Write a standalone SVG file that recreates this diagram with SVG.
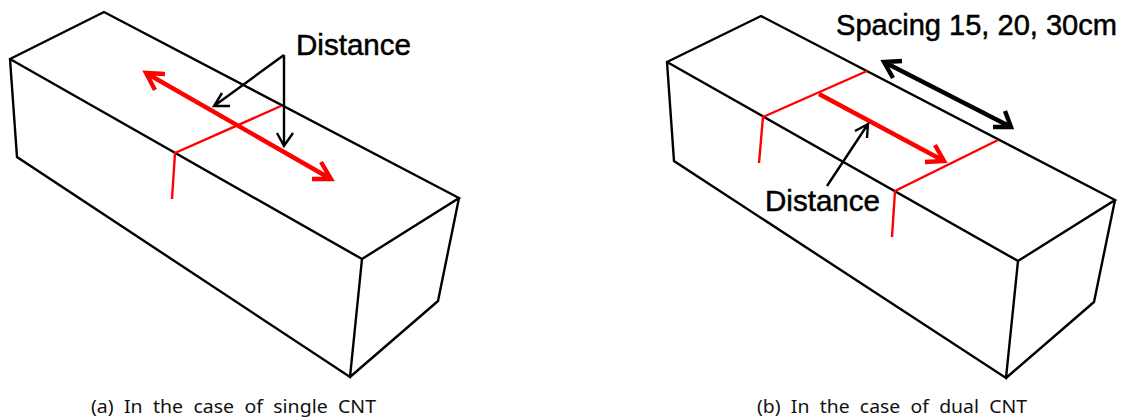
<svg xmlns="http://www.w3.org/2000/svg" width="1124" height="418" viewBox="0 0 1124 418">
<style>
.box{fill:none;stroke:#000;stroke-width:2.4;stroke-linejoin:miter}
.cut{fill:none;stroke:#f00;stroke-width:2.4}
.red{fill:none;stroke:#f00;stroke-width:4.4}
.blk{fill:none;stroke:#000;stroke-width:2.4}
.blk4{fill:none;stroke:#000;stroke-width:4.4}
.lab{font-family:"Liberation Sans",Arial,sans-serif;fill:#000;stroke:#000;stroke-width:.5}
.cap{font-family:"Noto Sans",sans-serif;font-size:18.5px;fill:#111}
</style>
<rect width="1124" height="418" fill="#fff"/>
<g id="beam-a">
<path class="box" d="M10 59L104 12L459 198L362 259L350 377L17 157ZM10 59L362 259M459 198L438 301L350 377"/>
</g>
<g id="beam-b">
<path class="box" d="M667 62L761 16L1115 200L1018 261L1006 378L674 161ZM667 62L1018 261M1115 200L1094 302L1006 378"/>
</g>
<g id="cuts">
<path class="cut" d="M281 106L175 153L172 199"/>
<path class="cut" d="M867 71L763 117L759 163"/>
<path class="cut" d="M998 140L895 191L892 237"/>
</g>
<g id="connectors">
<path class="red" d="M146 73L331 179M165 74L146 73L155 90M312 179L331 179L321 162"/>
<path class="red" d="M819 94L944 161M925 162L944 161L935 145"/>
<path class="blk" d="M284 55L214 106M230 106L214 106L222 93"/>
<path class="blk" d="M284 55L284 146M277 133L284 146L293 133"/>
<path class="blk" d="M827 186L868 124M855 131L868 124L867 138"/>
<path class="blk4" d="M884 62L1011 127M902 61L884 62L893 78M993 127L1011 127L1005 111"/>
</g>
<g id="label-distance-a"><text class="lab" x="296" y="55" font-size="29" textLength="115" lengthAdjust="spacingAndGlyphs">Distance</text></g>
<g id="label-distance-b"><text class="lab" x="765" y="211" font-size="29" textLength="115" lengthAdjust="spacingAndGlyphs">Distance</text></g>
<g id="label-spacing"><text class="lab" x="836" y="35" font-size="29" textLength="281" lengthAdjust="spacingAndGlyphs">Spacing 15, 20, 30cm</text></g>
<g id="caption-a"><text class="cap" x="91" y="412.5" textLength="285" lengthAdjust="spacingAndGlyphs" word-spacing="5">(a) In the case of single CNT</text></g>
<g id="caption-b"><text class="cap" x="757" y="412.5" textLength="270" lengthAdjust="spacingAndGlyphs" word-spacing="5">(b) In the case of dual CNT</text></g>
</svg>
